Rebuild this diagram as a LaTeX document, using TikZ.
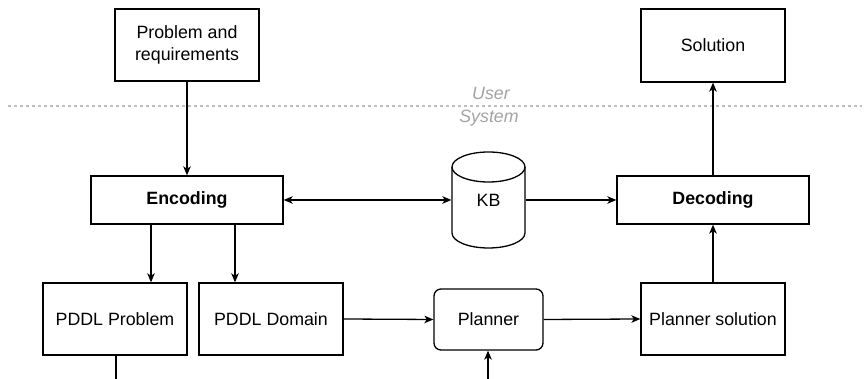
\documentclass[tikz,border=0pt]{standalone}
\usepackage{fontspec}
\setmainfont{Liberation Sans}
\usetikzlibrary{arrows.meta}
\definecolor{sepgray}{HTML}{BDBDBD}
\definecolor{labgray}{HTML}{A3A3A3}
\begin{document}
\begin{tikzpicture}[x=1pt,y=1pt,
  line width=1.3pt,
  every node/.style={font=\fontsize{17.8}{22}\selectfont, inner sep=0pt, align=center},
  box/.style={draw, rectangle, minimum width=144, minimum height=72},
  widebox/.style={draw, rectangle, minimum width=192, minimum height=48, font=\fontsize{17.8}{22}\selectfont\bfseries},
  arr/.style={-{Stealth[length=9pt,width=7.5pt,inset=2.5pt]}},
  dblarr/.style={{Stealth[length=9pt,width=7.5pt,inset=2.5pt]}-{Stealth[length=9pt,width=7.5pt,inset=2.5pt]}},
  sep/.style={draw=sepgray, line width=1.4pt, dash pattern=on 3.3pt off 2.7pt},
  zone/.style={text=labgray, font=\fontsize{17.8}{22}\selectfont\itshape}
]
\useasboundingbox (0,0) rectangle (865,379);

% user side
\node[box] (prob) at (187,334) {Problem and\\requirements};
\node[box, minimum height=73] (sol) at (713,333.5) {Solution};

% user / system boundary
\coordinate (sepL) at (8,273);
\coordinate (sepR) at (862,273);
\draw[sep] (sepL) -- (sepR);
\node[zone] (userlab) at (491,286) {User};
\node[zone] (syslab) at (489,261) {System};

% system side, middle row
\node[widebox] (enc) at (187,179) {Encoding};
\node[widebox] (dec) at (713,179) {Decoding};
\node[minimum width=73, minimum height=96] (kb) at (488.5,179) {KB};
\draw (452,212) -- (452,146) arc (180:360:36.5 and 15) -- (525,212)
      arc (0:180:36.5 and 15) -- cycle;
\draw (452,212) arc (180:360:36.5 and 15);

% bottom row
\node[box] (pp) at (115,60) {PDDL Problem};
\node[box] (pd) at (271,60) {PDDL Domain};
\node[draw, rounded corners=7pt, minimum width=109, minimum height=61] (plan) at (488.5,59.5) {Planner};
\node[box] (ps) at (713,60) {Planner solution};

% connectors
\coordinate (xa) at (151,0);
\coordinate (xb) at (235,0);
\coordinate (ppout) at (116,0);
\coordinate (planin) at (488,0);

\draw[arr] (prob.south) -- (enc.north);
\draw[dblarr] (enc.east) -- (kb.west);
\draw[arr] (kb.east) -- (dec.west);
\draw[arr] (enc.south -| xa) -- (pp.north -| xa);
\draw[arr] (enc.south -| xb) -- (pd.north -| xb);
\draw[arr] (pd.east) -- (plan.west);
\draw[arr] (plan.east) -- (ps.west);
\draw[arr] (ps.north) -- (dec.south);
\draw[arr] (dec.north) -- (sol.south);
\draw (pp.south -| ppout) -- (ppout);
\draw[arr] (planin) -- (plan.south -| planin);
\end{tikzpicture}
\end{document}
